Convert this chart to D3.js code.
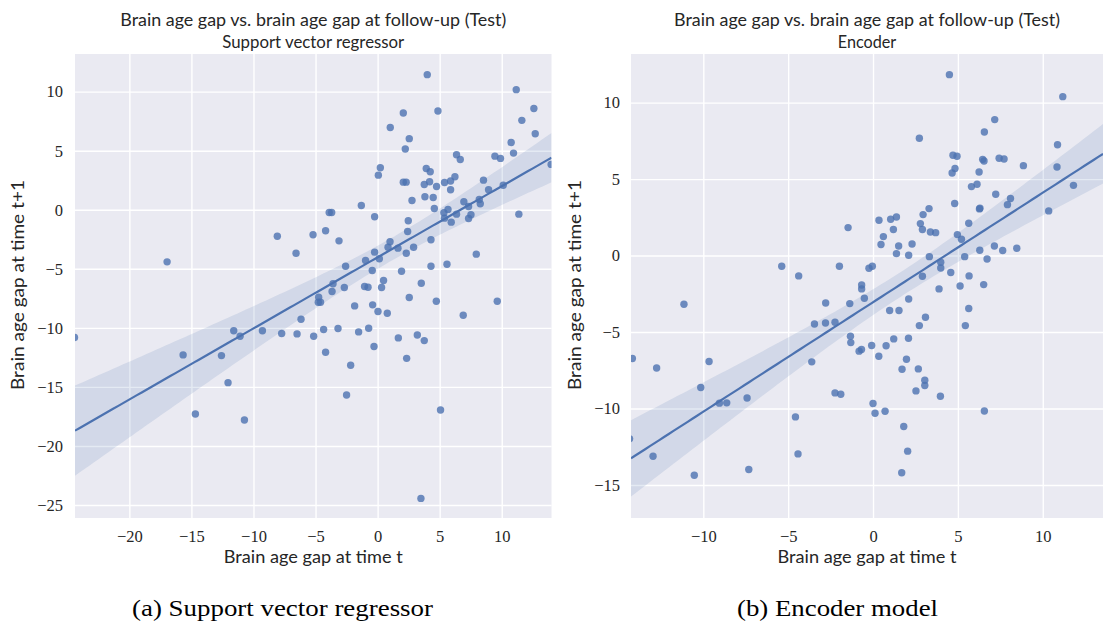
<!DOCTYPE html>
<html><head><meta charset="utf-8">
<script src="https://cdn.jsdelivr.net/npm/d3@7/dist/d3.min.js"></script>
<style>body{margin:0;background:#fff;} svg{display:block;}</style>
</head><body>
<script>
// ---------- DATA ----------
const titleLine1 = "Brain age gap vs. brain age gap at follow-up (Test)";
const subtitles = ["Support vector regressor", "Encoder"];
const captions = ["(a) Support vector regressor", "(b) Encoder model"];
const xLabel = "Brain age gap at time t";
const yLabel = "Brain age gap at time t+1";

const svrXTicks = [-20, -15, -10, -5, 0, 5, 10];
const svrYTicks = [-25, -20, -15, -10, -5, 0, 5, 10];
const encXTicks = [-10, -5, 0, 5, 10];
const encYTicks = [-15, -10, -5, 0, 5, 10];

const svrPoints = [
[-16.96,-4.41],[-8.08,-2.24],[-6.57,-3.68],[-5.2,-2.12],[4.0,11.44],[11.17,10.17],[12.59,8.58],[2.07,8.19],
[4.86,8.36],[11.62,7.57],[1.02,6.97],[12.7,6.44],[2.55,6.02],[2.23,5.14],[10.76,5.70],[10.95,4.80],
[6.36,4.66],[6.66,4.26],[9.45,4.54],[9.9,4.35],[13.98,3.84],[0.22,3.56],[0.06,2.93],[3.92,3.5],
[4.24,3.22],[2.07,2.34],[2.3,2.34],[3.76,2.14],[4.19,2.37],[4.75,1.97],[5.39,2.31],[5.88,2.43],
[6.23,2.8],[5.88,1.69],[8.53,2.51],[8.94,1.69],[10.12,2.08],[3.81,1.1],[4.48,1.04],[2.77,0.79],
[4.57,0.11],[-1.31,0.36],[-0.24,-0.59],[-3.9,-0.23],[-3.7,-0.23],[6.95,0.68],[8.19,0.87],[8.27,0.51],
[7.33,0.28],[5.34,-0.25],[5.67,0.03],[6.36,-0.37],[7.52,-0.42],[7.33,-0.74],[5.39,-0.71],[5.93,-1.05],
[11.38,-0.37],[2.47,-0.93],[2.42,-1.84],[-4.19,-1.78],[-3.11,-2.63],[4.3,-2.54],[1.0,-2.71],[0.84,-3.17],
[1.64,-3.25],[-0.24,-3.59],[0.14,-4.15],[2.31,-3.68],[2.9,-3.17],[-2.58,-4.78],[-0.97,-4.3],[-0.43,-5.14],
[1.93,-5.2],[4.3,-4.78],[5.59,-4.61],[7.95,-3.76],[-3.59,-6.27],[-3.67,-6.92],[-2.68,-6.58],[-1.05,-6.5],
[-0.77,-6.56],[0.32,-6.58],[0.48,-5.99],[3.52,-6.22],[-6.17,-9.27],[-4.75,-7.41],[-4.78,-7.83],[-4.6,-7.83],
[-1.85,-8.14],[-0.4,-8.05],[0.03,-8.62],[0.78,-8.76],[2.55,-7.43],[4.73,-7.74],[6.9,-8.93],[9.64,-7.74],
[-5.15,-10.71],[-4.35,-10.14],[-3.19,-10.06],[-1.53,-10.34],[-0.72,-10.03],[-4.19,-12.07],[-0.29,-11.58],[-2.17,-13.17],
[1.67,-10.85],[2.34,-12.58],[3.2,-10.6],[3.76,-11.08],[-2.5,-15.68],[5.07,-16.95],[3.49,-24.44],[-24.42,-10.82],
[-15.67,-12.29],[-14.68,-17.29],[-12.58,-12.35],[-12.05,-14.64],[-11.59,-10.25],[-11.08,-10.71],[-10.73,-17.8],[-9.28,-10.25],
[-7.73,-10.48],[-6.49,-10.51]
];

const encPoints = [
[-1.47,1.83],[-5.38,-0.7],[-4.38,-1.33],[-1.98,-0.7],[-0.24,-0.83],[-0.67,-1.92],[-0.67,-2.18],[4.5,11.83],
[11.18,10.39],[7.17,8.89],[6.56,8.08],[2.73,7.67],[10.87,7.25],[4.71,6.56],[4.95,6.49],[6.46,6.29],
[6.54,6.18],[7.43,6.36],[7.72,6.31],[8.86,5.88],[10.84,5.79],[4.83,5.69],[4.66,5.4],[6.25,5.46],
[5.8,4.51],[6.13,4.66],[11.81,4.59],[7.23,4.01],[8.1,3.73],[7.92,3.33],[10.35,2.92],[4.81,3.4],
[6.27,3.05],[6.3,3.1],[3.3,3.07],[2.95,2.68],[2.79,2.09],[2.91,1.7],[3.38,1.54],[3.69,1.5],
[5.64,2.11],[0.35,2.31],[1.04,2.37],[1.38,2.52],[1.2,1.7],[0.61,1.24],[0.47,0.72],[1.51,0.63],
[2.3,0.76],[1.38,0.13],[2.1,0.02],[3.32,-0.07],[4.97,1.37],[5.21,1.07],[5.4,-0.07],[6.29,0.35],
[6.72,-0.22],[7.15,0.63],[7.64,0.33],[8.47,0.48],[3.99,-0.44],[3.99,-0.81],[4.58,-1.11],[2.91,-1.35],
[5.66,-1.33],[3.89,-2.18],[5.13,-1.99],[6.52,-1.9],[-0.04,-0.7],[-0.51,-2.79],[2.1,-2.84],[0.98,-3.59],
[1.53,-3.59],[3.09,-4.03],[2.73,-4.58],[5.64,-3.46],[5.44,-4.58],[-0.68,-6.14],[-0.08,-5.88],[0.77,-5.9],
[1.22,-5.45],[2.09,-5.41],[0.34,-6.58],[1.97,-6.78],[1.71,-7.43],[2.67,-7.41],[3.05,-8.15],[3.05,-8.5],
[2.53,-8.85],[3.97,-9.2],[0.0,-9.67],[0.12,-10.31],[0.71,-10.18],[6.56,-10.16],[1.81,-11.18],[2.04,-12.79],
[1.69,-14.2],[-2.79,-3.1],[-1.37,-3.14],[-11.14,-3.18],[-3.45,-4.47],[-2.8,-4.41],[-2.24,-4.36],[-1.33,-5.27],
[-1.31,-5.69],[-0.82,-6.25],[-14.18,-6.73],[-12.75,-7.35],[-9.66,-6.93],[-10.15,-8.63],[-9.05,-9.65],[-8.62,-9.63],
[-7.42,-9.31],[-3.61,-6.95],[-2.24,-8.98],[-1.9,-9.07],[-4.57,-10.55],[-4.42,-12.97],[-14.34,-11.98],[-12.96,-13.12],
[-10.53,-14.36],[-7.32,-13.99]
];

// axis limits
const svrXDomain = [-24.38, 14.01];
const svrYDomain = [-26.1, 13.19];
const encXDomain = [-14.26, 13.55];
const encYDomain = [-17.16, 13.18];

// ---------- DRAWING ----------
const W = 1103, H = 625;
const svg = d3.select("body").append("svg").attr("width", W).attr("height", H);

const BLUE = "#4C72B0";
const sansFont = "Lato, 'Open Sans', 'DejaVu Sans', sans-serif";
const serifFont = "'Liberation Serif', 'Times New Roman', serif";
const fmt = d => d < 0 ? "\u2212" + Math.abs(d) : String(d);

function fitOLS(pts) {
  const n = pts.length;
  const mx = d3.mean(pts, p => p[0]), my = d3.mean(pts, p => p[1]);
  const sxx = d3.sum(pts, p => (p[0]-mx)**2);
  const sxy = d3.sum(pts, p => (p[0]-mx)*(p[1]-my));
  const b = sxy / sxx, a = my - b*mx;
  const sse = d3.sum(pts, p => (p[1]-(a+b*p[0]))**2);
  const s = Math.sqrt(sse/(n-2));
  return {a, b, n, mx, sxx, s};
}

function panel(cfg, idx) {
  const {x0, x1, y0, y1} = cfg.rect;
  const w = x1 - x0, h = y1 - y0;
  const x = d3.scaleLinear().domain(cfg.xDomain).range([x0, x1]);
  const y = d3.scaleLinear().domain(cfg.yDomain).range([y1, y0]);
  const g = svg.append("g");
  const clipId = "clip" + idx;
  svg.append("clipPath").attr("id", clipId).append("rect")
    .attr("x", x0).attr("y", y0).attr("width", w).attr("height", h);

  g.append("rect").attr("x", x0).attr("y", y0).attr("width", w).attr("height", h).attr("fill", "#EAEAF2");

  // grid
  const gx = g.append("g").attr("transform", `translate(0,${y1})`)
    .call(d3.axisBottom(x).tickValues(cfg.xTicks).tickSize(-h).tickFormat(""));
  const gy = g.append("g").attr("transform", `translate(${x0},0)`)
    .call(d3.axisLeft(y).tickValues(cfg.yTicks).tickSize(-w).tickFormat(""));
  [gx, gy].forEach(a => {
    a.select(".domain").remove();
    a.selectAll("line").attr("stroke", "#fff").attr("stroke-width", 1.4);
  });

  // tick labels
  const tx = g.append("g").attr("transform", `translate(0,${y1})`)
    .call(d3.axisBottom(x).tickValues(cfg.xTicks).tickSize(0).tickPadding(12).tickFormat(fmt));
  const ty = g.append("g").attr("transform", `translate(${x0},0)`)
    .call(d3.axisLeft(y).tickValues(cfg.yTicks).tickSize(0).tickPadding(cfg.yPad).tickFormat(fmt));
  [tx, ty].forEach(a => {
    a.select(".domain").remove();
    a.selectAll("text").attr("font-family", serifFont).attr("font-size", 16.5).attr("fill", "#262626");
  });

  const inner = g.append("g").attr("clip-path", `url(#${clipId})`);

  // regression + CI band
  const f = fitOLS(cfg.points);
  const tcrit = 1.98;
  const xs = d3.range(0, 101).map(i => cfg.xDomain[0] + (cfg.xDomain[1]-cfg.xDomain[0]) * i / 100);
  const band = xs.map(xv => {
    const yh = f.a + f.b*xv;
    const se = f.s * Math.sqrt(1/f.n + (xv - f.mx)**2 / f.sxx);
    return {xv, yh, lo: yh - tcrit*se, hi: yh + tcrit*se};
  });

  inner.selectAll("circle").data(cfg.points).join("circle")
    .attr("cx", d => x(d[0])).attr("cy", d => y(d[1])).attr("r", 3.7)
    .attr("fill", BLUE).attr("fill-opacity", 0.8);

  inner.append("path").datum(band)
    .attr("d", d3.area().x(d => x(d.xv)).y0(d => y(d.lo)).y1(d => y(d.hi)))
    .attr("fill", BLUE).attr("fill-opacity", 0.15);
  inner.append("path").datum(band)
    .attr("d", d3.line().x(d => x(d.xv)).y(d => y(d.yh)))
    .attr("fill", "none").attr("stroke", BLUE).attr("stroke-width", 2.2);

  const cx = (x0 + x1) / 2;
  // titles
  g.append("text").attr("x", cx).attr("y", 26).attr("text-anchor", "middle")
    .attr("font-family", sansFont).attr("font-size", 17).attr("fill", "#262626")
    .attr("textLength", 386).attr("lengthAdjust", "spacingAndGlyphs").text(titleLine1);
  g.append("text").attr("x", cx).attr("y", 48).attr("text-anchor", "middle")
    .attr("font-family", sansFont).attr("font-size", 17).attr("fill", "#262626")
    .attr("textLength", cfg.subLen).attr("lengthAdjust", "spacingAndGlyphs").text(cfg.subtitle);
  // axis labels
  g.append("text").attr("x", cx).attr("y", 563).attr("text-anchor", "middle")
    .attr("font-family", sansFont).attr("font-size", 17).attr("fill", "#262626")
    .attr("textLength", 179).attr("lengthAdjust", "spacingAndGlyphs").text(xLabel);
  g.append("text").attr("transform", `translate(${cfg.yLabelX},285) rotate(-90)`)
    .attr("text-anchor", "middle")
    .attr("font-family", sansFont).attr("font-size", 17).attr("fill", "#262626")
    .attr("textLength", 210).attr("lengthAdjust", "spacingAndGlyphs").text(yLabel);
  // caption
  g.append("text").attr("x", cfg.capX).attr("y", 616).attr("text-anchor", "middle")
    .attr("font-family", serifFont).attr("font-size", 24).attr("fill", "#000")
    .attr("textLength", cfg.capLen).attr("lengthAdjust", "spacingAndGlyphs").text(cfg.caption);
}

panel({
  rect: {x0: 75, x1: 551.5, y0: 54, y1: 518},
  xDomain: svrXDomain, yDomain: svrYDomain, xTicks: svrXTicks, yTicks: svrYTicks,
  points: svrPoints, subtitle: subtitles[0], subLen: 182, caption: captions[0],
  capX: 282.5, capLen: 301, yLabelX: 24, yPad: 12
}, 0);
panel({
  rect: {x0: 631, x1: 1103, y0: 54, y1: 518},
  xDomain: encXDomain, yDomain: encYDomain, xTicks: encXTicks, yTicks: encYTicks,
  points: encPoints, subtitle: subtitles[1], subLen: 58.5, caption: captions[1],
  capX: 837.5, capLen: 201, yLabelX: 581, yPad: 11
}, 1);
</script>
</body></html>
